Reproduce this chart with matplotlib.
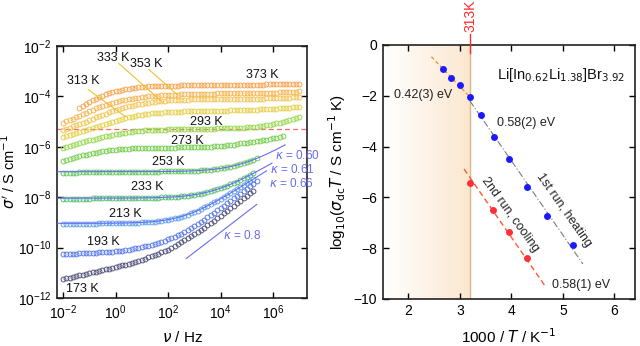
"""Li[In0.62Li1.38]Br3.92 — AC conductivity spectra and Arrhenius plot."""
import matplotlib

matplotlib.use("Agg")
import matplotlib.pyplot as plt
import numpy as np
from matplotlib.colors import LinearSegmentedColormap
from matplotlib.ticker import FixedLocator, LogFormatterSciNotation, NullLocator

plt.rcParams["font.family"] = ["Liberation Sans", "DejaVu Sans"]
plt.rcParams["mathtext.fontset"] = "dejavusans"
plt.rcParams["axes.unicode_minus"] = True

# ---------------------------------------------------------------- spectra
# frequency sweep: 8 points per decade, log10(f / Hz) = -2 + k * STEP
LOGF0 = -2.0
STEP = 0.125

temps = [373, 353, 333, 313, 293, 273, 253, 233, 213, 193, 173]
first_point = {373: 5}  # first sweep index kept for each curve (default 0)

# log10(sigma' / S cm^-1)
s373 = [-4.45, -4.37, -4.29,
        -4.22, -4.15, -4.09, -4.03, -3.97, -3.92, -3.88, -3.84,
        -3.80, -3.77, -3.74, -3.71, -3.69, -3.67, -3.65, -3.63,
        -3.62, -3.61, -3.60, -3.59, -3.59, -3.58, -3.58, -3.57,
        -3.57, -3.57, -3.57, -3.57, -3.56, -3.56, -3.56, -3.56,
        -3.56, -3.56, -3.56, -3.56, -3.55, -3.55, -3.55, -3.55,
        -3.55, -3.55, -3.55, -3.55, -3.54, -3.54, -3.54, -3.54,
        -3.54, -3.54, -3.53, -3.53, -3.53, -3.53, -3.52, -3.52,
        -3.52, -3.52, -3.51, -3.51, -3.51, -3.50, -3.50, -3.49,
        -3.49]
s353 = [-5.05, -4.99, -4.93, -4.88, -4.82, -4.76, -4.70, -4.64,
        -4.58, -4.53, -4.48, -4.43, -4.38, -4.34, -4.30, -4.26,
        -4.22, -4.19, -4.16, -4.13, -4.11, -4.09, -4.07, -4.05,
        -4.03, -4.02, -4.00, -3.99, -3.98, -3.97, -3.96, -3.95,
        -3.94, -3.94, -3.93, -3.93, -3.92, -3.92, -3.91, -3.91,
        -3.90, -3.90, -3.90, -3.89, -3.89, -3.89, -3.89, -3.88,
        -3.88, -3.88, -3.88, -3.88, -3.88, -3.87, -3.87, -3.87,
        -3.87, -3.87, -3.87, -3.86, -3.86, -3.86, -3.86, -3.85,
        -3.85, -3.85, -3.84, -3.84, -3.83, -3.83, -3.82, -3.81,
        -3.80]
s333 = [-5.33, -5.28, -5.24, -5.19, -5.15, -5.10, -5.05, -5.00,
        -4.95, -4.89, -4.83, -4.77, -4.72, -4.68, -4.63, -4.59,
        -4.55, -4.51, -4.47, -4.43, -4.40, -4.37, -4.34, -4.31,
        -4.29, -4.27, -4.25, -4.23, -4.21, -4.20, -4.18, -4.17,
        -4.16, -4.15, -4.15, -4.14, -4.14, -4.13, -4.13, -4.12,
        -4.12, -4.12, -4.12, -4.12, -4.11, -4.11, -4.11, -4.11,
        -4.11, -4.11, -4.11, -4.10, -4.10, -4.10, -4.10, -4.10,
        -4.10, -4.10, -4.09, -4.09, -4.09, -4.09, -4.08, -4.08,
        -4.08, -4.07, -4.07, -4.06, -4.06, -4.05, -4.04, -4.04,
        -4.03]
s313 = [-5.60, -5.56, -5.52, -5.49, -5.45, -5.41, -5.38, -5.34,
        -5.30, -5.26, -5.21, -5.17, -5.12, -5.08, -5.04, -5.00,
        -4.96, -4.93, -4.89, -4.86, -4.83, -4.80, -4.78, -4.75,
        -4.73, -4.71, -4.69, -4.67, -4.66, -4.65, -4.64, -4.63,
        -4.62, -4.61, -4.61, -4.60, -4.60, -4.59, -4.59, -4.59,
        -4.58, -4.58, -4.58, -4.57, -4.57, -4.57, -4.57, -4.56,
        -4.56, -4.56, -4.56, -4.55, -4.55, -4.55, -4.55, -4.54,
        -4.54, -4.54, -4.53, -4.53, -4.52, -4.52, -4.51, -4.51,
        -4.50, -4.49, -4.48, -4.47, -4.46, -4.45, -4.44, -4.43,
        -4.42]
s293 = [-6.05, -6.00, -5.96, -5.92, -5.88, -5.85, -5.81, -5.78,
        -5.75, -5.72, -5.68, -5.65, -5.62, -5.59, -5.56, -5.53,
        -5.50, -5.48, -5.46, -5.44, -5.42, -5.40, -5.39, -5.37,
        -5.36, -5.35, -5.34, -5.34, -5.33, -5.33, -5.32, -5.32,
        -5.31, -5.31, -5.31, -5.30, -5.30, -5.30, -5.30, -5.29,
        -5.29, -5.29, -5.29, -5.28, -5.28, -5.28, -5.28, -5.27,
        -5.27, -5.27, -5.26, -5.26, -5.25, -5.25, -5.24, -5.24,
        -5.23, -5.22, -5.21, -5.20, -5.18, -5.16, -5.14, -5.12,
        -5.10, -5.07, -5.04, -5.01, -4.97, -4.93, -4.89, -4.85,
        -4.80]
s273 = [-6.55, -6.51, -6.47, -6.44, -6.40, -6.37, -6.34, -6.31,
        -6.28, -6.25, -6.23, -6.20, -6.18, -6.16, -6.14, -6.12,
        -6.11, -6.10, -6.09, -6.08, -6.07, -6.06, -6.06, -6.05,
        -6.05, -6.05, -6.04, -6.04, -6.04, -6.04, -6.03, -6.03,
        -6.03, -6.03, -6.03, -6.02, -6.02, -6.02, -6.02, -6.01,
        -6.01, -6.01, -6.00, -6.00, -5.99, -5.99, -5.98, -5.97,
        -5.96, -5.95, -5.94, -5.92, -5.91, -5.89, -5.87, -5.86,
        -5.84, -5.82, -5.80, -5.78, -5.76, -5.74, -5.72, -5.69,
        -5.67, -5.64, -5.61, -5.58]
s253 = [-7.05, -7.04, -7.04, -7.03, -7.03, -7.02, -7.02, -7.02,
        -7.01, -7.01, -7.01, -7.00, -7.00, -7.00, -7.00, -6.99,
        -6.99, -6.99, -6.99, -6.99, -6.99, -6.99, -6.99, -6.99,
        -6.99, -6.99, -6.99, -6.99, -6.99, -6.99, -6.98, -6.98,
        -6.98, -6.98, -6.98, -6.97, -6.97, -6.97, -6.96, -6.96,
        -6.95, -6.95, -6.94, -6.93, -6.92, -6.91, -6.90, -6.88,
        -6.86, -6.84, -6.82, -6.79, -6.76, -6.73, -6.69, -6.65,
        -6.61, -6.57, -6.52, -6.46]
s233 = [-8.08, -8.08, -8.07, -8.07, -8.07, -8.06, -8.06, -8.06,
        -8.06, -8.05, -8.05, -8.05, -8.05, -8.05, -8.04, -8.04,
        -8.04, -8.04, -8.04, -8.04, -8.04, -8.04, -8.03, -8.03,
        -8.03, -8.03, -8.03, -8.02, -8.02, -8.02, -8.01, -8.01,
        -8.00, -8.00, -7.99, -7.98, -7.97, -7.95, -7.94, -7.92,
        -7.90, -7.88, -7.86, -7.83, -7.80, -7.76, -7.73, -7.69,
        -7.64, -7.59, -7.54, -7.49, -7.43, -7.38, -7.32, -7.25,
        -7.19, -7.12, -7.05]
s213 = [-9.07, -9.07, -9.07, -9.06, -9.06, -9.06, -9.06, -9.05,
        -9.05, -9.05, -9.05, -9.04, -9.04, -9.04, -9.04, -9.04,
        -9.03, -9.03, -9.03, -9.03, -9.02, -9.02, -9.01, -9.01,
        -9.00, -9.00, -8.99, -8.98, -8.97, -8.95, -8.93, -8.92,
        -8.89, -8.87, -8.84, -8.81, -8.77, -8.73, -8.69, -8.64,
        -8.59, -8.53, -8.47, -8.41, -8.35, -8.28, -8.21, -8.14,
        -8.07, -7.99, -7.92, -7.84, -7.76, -7.68, -7.61, -7.53,
        -7.45, -7.36, -7.28]
s193 = [-10.25, -10.25, -10.24, -10.24, -10.24, -10.23, -10.23, -10.22,
        -10.22, -10.21, -10.20, -10.19, -10.18, -10.17, -10.16, -10.16,
        -10.15, -10.13, -10.12, -10.10, -10.08, -10.06, -10.03, -10.01,
        -9.98, -9.95, -9.92, -9.88, -9.85, -9.81, -9.77, -9.73,
        -9.68, -9.63, -9.57, -9.51, -9.45, -9.38, -9.30, -9.23,
        -9.15, -9.06, -8.98, -8.89, -8.80, -8.71, -8.62, -8.52,
        -8.43, -8.34, -8.24, -8.15, -8.05, -7.95, -7.86, -7.76,
        -7.66, -7.56, -7.47, -7.37]
s173 = [-11.24, -11.21, -11.19, -11.16, -11.13, -11.10, -11.08, -11.05,
        -11.02, -10.99, -10.96, -10.93, -10.90, -10.87, -10.84, -10.81,
        -10.78, -10.75, -10.71, -10.68, -10.64, -10.60, -10.56, -10.52,
        -10.48, -10.44, -10.39, -10.35, -10.30, -10.25, -10.19, -10.14,
        -10.08, -10.01, -9.94, -9.87, -9.80, -9.72, -9.64, -9.56,
        -9.48, -9.39, -9.30, -9.21, -9.12, -9.03, -8.93, -8.84,
        -8.74, -8.64, -8.55, -8.45, -8.35, -8.25, -8.15, -8.05,
        -7.95, -7.85, -7.75]
spectra = {373: s373, 353: s353, 333: s333, 313: s313, 293: s293, 273: s273,
           253: s253, 233: s233, 213: s213, 193: s193, 173: s173}

curve_colors = {373: "#f6a24c", 353: "#f6b451", 333: "#f2c452", 313: "#e6cf47",
                293: "#95d64b", 273: "#74cc4c", 253: "#62c65a", 233: "#56be73",
                213: "#5ea2ec", 193: "#5577e6", 173: "#4c4c78"}

# temperature labels: (log10 f, log10 sigma) of the text centre
temp_label_pos = {373: (5.6, -3.17), 353: (1.15, -2.73), 333: (-0.08, -2.46),
                  313: (-1.23, -3.40), 293: (3.46, -5.0), 273: (2.73, -5.76),
                  253: (2.0, -6.61), 233: (1.19, -7.6), 213: (0.38, -8.65),
                  193: (-0.46, -9.77), 173: (-1.27, -11.65)}
# leader lines from label to curve: (logf0, logs0, logf1, logs1)
leaders = {313: (-1.04, -3.73, 0.38, -4.81),
           333: (0.12, -2.69, 1.81, -4.25),
           353: (1.27, -2.93, 2.35, -3.93)}

# fits sigma' = sigma0 * (1 + (f / fc)^kappa): log sigma0, log fc, kappa, last log f
fit_temps = [253, 233, 213]
fit_log_s0 = [-6.99, -8.04, -9.04]
fit_log_fc = [4.75, 3.71, 2.60]
fit_kappa = [0.60, 0.61, 0.66]
fit_logf_end = [6.46, 5.96, 5.75]
kappa_label_pos = [(6.08, -6.33), (5.88, -6.89), (5.85, -7.45)]

# reference slope kappa = 0.8
ref_kappa = 0.8
ref_logf = [2.69, 5.38]
ref_log_s0 = -10.44

dc_level = 5e-6  # sigma' at 313 K cut-off

# ------------------------------------------------------------- Arrhenius
heat_inv_T = [2.673, 2.82, 3.0, 3.196, 3.41, 3.66, 3.95, 4.31, 4.70, 5.19]
heat_log = [-0.95, -1.31, -1.57, -2.06, -2.76, -3.61, -4.50, -5.60, -6.73, -7.87]
cool_inv_T = [3.196, 3.65, 3.95, 4.31]
cool_log = [-5.45, -6.49, -7.36, -8.38]

ea_high = 0.42   # eV, 1st run above 313 K
ea_low = 0.58    # eV, 1st run below 313 K
ea_cool = 0.58   # eV, 2nd run
T_cut = 313.0

K_B = 8.617e-5  # eV/K


def arrhenius_slope(ea):
    """Slope of log10(sigma T) against 1000/T."""
    return -ea / (K_B * np.log(10) * 1000.0)


def arrhenius_line(ax, x, y, ea, x0, x1, **kw):
    x = np.asarray(x)
    y = np.asarray(y)
    k = arrhenius_slope(ea)
    b = y.mean() - k * x.mean()
    xs = np.array([x0, x1])
    ax.plot(xs, k * xs + b, **kw)


def style_axes(ax):
    ax.tick_params(which="both", direction="in", top=True, right=True,
                   length=4, width=1.0, labelsize=10, pad=4)
    for sp in ax.spines.values():
        sp.set_linewidth(1.2)
        sp.set_color("#222222")


fig = plt.figure(figsize=(6.4, 3.46), dpi=100)
ax1 = fig.add_axes([0.089, 0.139, 0.391, 0.728])
ax2 = fig.add_axes([0.598, 0.136, 0.394, 0.734])

# ---------------------------------------------------------------- left panel
ax1.axhline(dc_level, color="#f06a6a", lw=0.9, ls=(0, (4, 2.5)), zorder=1)

for T in temps:
    logs = np.array(spectra[T])
    k0 = first_point.get(T, 0)
    logf = LOGF0 + STEP * np.arange(k0, k0 + len(logs))
    ax1.plot(10 ** logf, 10 ** logs, ls="none", marker="o", ms=3.5, mfc="none",
             mec=curve_colors[T], mew=0.65, zorder=2)

fit_color = "#6b6bf2"
for s0, fc, kap, lend, (lx, ly) in zip(fit_log_s0, fit_log_fc, fit_kappa,
                                       fit_logf_end, kappa_label_pos):
    lf = np.linspace(-2.25, lend, 200)
    ax1.plot(10 ** lf, 10 ** s0 * (1 + 10 ** (kap * (lf - fc))),
             color=fit_color, lw=0.8, zorder=3)
    ax1.text(10 ** lx, 10 ** ly, rf"$\kappa$ = {kap:.2f}", color=fit_color,
             fontsize=8.5, ha="left", va="center")

rl = np.array(ref_logf)
ax1.plot(10 ** rl, 10 ** (ref_log_s0 + ref_kappa * (rl - rl[0])),
         color=fit_color, lw=0.8)
ax1.text(10 ** 4.08, 10 ** -9.52, rf"$\kappa$ = {ref_kappa}", color=fit_color,
         fontsize=8.5, ha="left", va="center")

for T, (lx, ly) in temp_label_pos.items():
    ax1.text(10 ** lx, 10 ** ly, f"{T} K", fontsize=9, ha="center", va="center",
             color="#111111")
for T, (a, b, c, d) in leaders.items():
    ax1.plot([10 ** a, 10 ** c], [10 ** b, 10 ** d], color="#f2c02c", lw=0.8)

ax1.set_xscale("log")
ax1.set_yscale("log")
ax1.set_xlim(10 ** -2.23, 10 ** 7.3)
ax1.set_ylim(1e-12, 1e-2)
ax1.xaxis.set_major_locator(FixedLocator([1e-2, 1, 1e2, 1e4, 1e6]))
ax1.yaxis.set_major_locator(FixedLocator([1e-12, 1e-10, 1e-8, 1e-6, 1e-4, 1e-2]))
ax1.xaxis.set_major_formatter(LogFormatterSciNotation())
ax1.yaxis.set_major_formatter(LogFormatterSciNotation())
ax1.xaxis.set_minor_locator(NullLocator())
ax1.yaxis.set_minor_locator(NullLocator())
style_axes(ax1)
ax1.set_xlabel(r"$\nu$ / Hz", fontsize=11, labelpad=6)
ax1.set_ylabel(r"$\sigma'$ / S cm$^{-1}$", fontsize=10.5, labelpad=0)

# --------------------------------------------------------------- right panel
x_cut = 1000.0 / T_cut
xmin, xmax = 1.5, 6.4
shade = LinearSegmentedColormap.from_list("shade", ["#ffffff", "#fbe7cf"])
ax2.imshow(np.linspace(0, 1, 256).reshape(1, -1), cmap=shade, aspect="auto",
           extent=[xmin, x_cut, -10, 0], zorder=0)
ax2.axvline(x_cut, color="#dbb58c", lw=1.0, zorder=1)
ax2.plot([x_cut, x_cut], [-0.3, 0.45], color="#ff2a2a", lw=1.0, clip_on=False,
         zorder=4)
ax2.text(x_cut, 0.5, f"{T_cut:.0f}K", color="#ff2a2a", rotation=90,
         ha="center", va="bottom", fontsize=10, clip_on=False)

arrhenius_line(ax2, heat_inv_T[:4], heat_log[:4], ea_high, 2.445, x_cut,
               color="#ff8a1e", lw=0.9, ls=(0, (3, 2)), zorder=2)
arrhenius_line(ax2, heat_inv_T[3:], heat_log[3:], ea_low, x_cut, 5.39,
               color="#7a7a7a", lw=0.8, ls=(0, (6, 2, 1, 2)), zorder=2)
arrhenius_line(ax2, cool_inv_T, cool_log, ea_cool, 3.08, 4.65,
               color="#ff5a28", lw=1.0, ls=(0, (4, 2.5)), zorder=2)

ax2.plot(heat_inv_T, heat_log, "o", color="#1a1aff", ms=5, mew=0, zorder=3)
ax2.plot(cool_inv_T, cool_log, "o", color="#ff2f3a", ms=5, mew=0, zorder=3)

txt = dict(fontsize=9, color="#222222")
ax2.text(1.71, -1.97, f"{ea_high:.2f}(3) eV", ha="left", va="center", **txt)
ax2.text(3.72, -3.07, f"{ea_low:.2f}(2) eV", ha="left", va="center", **txt)
ax2.text(4.78, -9.45, f"{ea_cool:.2f}(1) eV", ha="left", va="center", **txt)
ax2.text(5.02, -6.5, "1st run, heating", rotation=-55, rotation_mode="anchor",
         ha="center", va="center", **txt)
ax2.text(3.98, -6.69, "2nd run, cooling", rotation=-54, rotation_mode="anchor",
         ha="center", va="center", **txt)
ax2.text(3.72, -1.18, r"Li[In$_{0.62}$Li$_{1.38}$]Br$_{3.92}$", fontsize=10.5,
         ha="left", va="center", color="#111111")

ax2.set_xlim(xmin, xmax)
ax2.set_ylim(-10, 0)
ax2.set_xticks([2, 3, 4, 5, 6])
ax2.set_yticks([0, -2, -4, -6, -8, -10])
style_axes(ax2)
ax2.set_xlabel(r"1000 / $T$ / K$^{-1}$", fontsize=11, labelpad=6)
ax2.set_ylabel(r"log$_{10}$($\sigma_{\rm dc}T$ / S cm$^{-1}$ K)", fontsize=11,
               labelpad=4)

fig.savefig("out.png", dpi=100)
plt.close(fig)
